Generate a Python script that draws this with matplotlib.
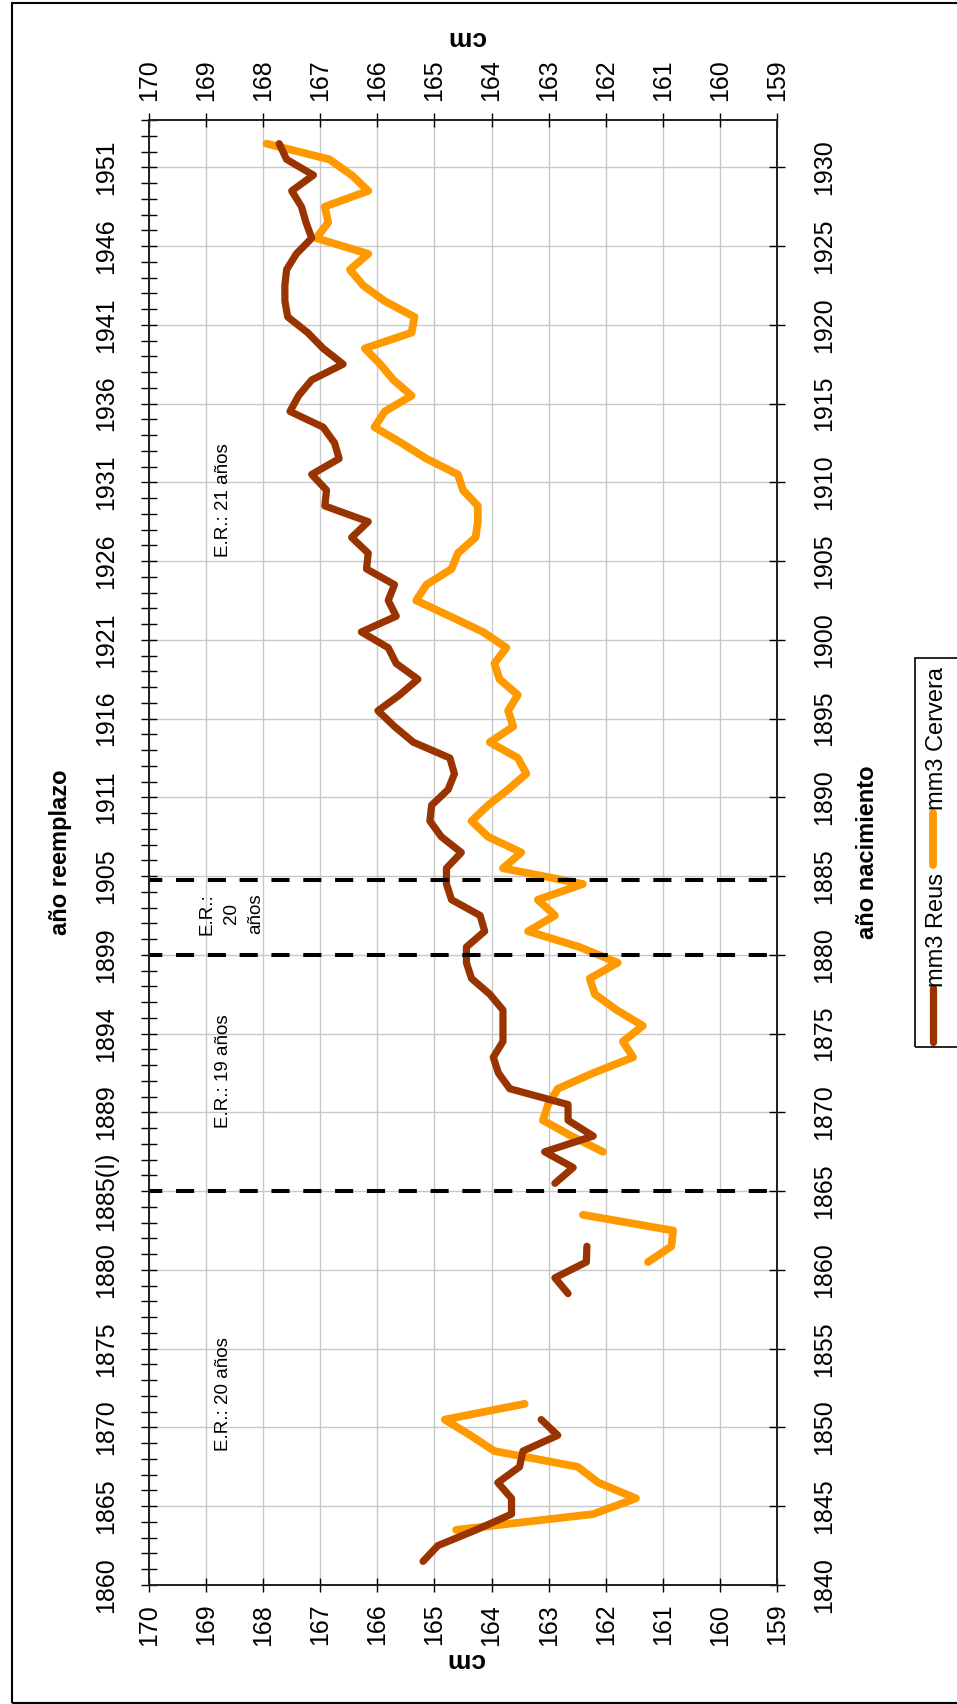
import numpy as np
import matplotlib.pyplot as plt
from matplotlib import font_manager
from matplotlib.ticker import MultipleLocator
from matplotlib.patches import Rectangle
from matplotlib.lines import Line2D

nan = np.nan

# birth year (año nacimiento) and mean height in cm
years_reus = np.arange(1841, 1932)
cm_reus = [165.20, 164.94, 164.27, 163.65, 163.65, 163.89, 163.51, 163.45, 162.84, 163.13,
           nan, nan, nan, nan, nan, nan, nan,
           162.66, 162.89, 162.34, 162.33,
           nan, nan, nan,
           162.89, 162.57, 163.07, 162.22, 162.66, 162.66, 163.68, 163.88, 163.97, 163.80,
           163.80, 163.80, 164.03, 164.35, 164.44, 164.44, 164.12, 164.20, 164.70, 164.79,
           164.79, 164.53, 164.88, 165.08, 165.05, 164.76, 164.65, 164.73, 165.37, 165.70,
           165.99, 165.61, 165.29, 165.67, 165.81, 166.28, 165.67, 165.81, 165.70, 166.19,
           166.16, 166.45, 166.16, 166.92, 166.89, 167.15, 166.67, 166.75, 166.95, 167.53,
           167.38, 167.15, 166.60, 166.95, 167.22, 167.57, 167.62, 167.62, 167.59, 167.42,
           167.15, 167.25, 167.33, 167.50, 167.12, 167.59, 167.72]

years_cervera = np.arange(1843, 1932)
cm_cervera = [164.62, 162.22, 161.47, 162.13, 162.49, 163.95, 164.37, 164.82, 163.42,
              nan, nan, nan, nan, nan, nan, nan, nan,
              161.26, 160.85, 160.82, 162.40,
              nan, nan, nan,
              162.05, 162.60, 163.10, 163.01, 162.84, 162.22, 161.52, 161.70, 161.35, 161.81,
              162.19, 162.28, 161.79, 162.46, 163.36, 162.89, 163.19, 162.40, 163.80, 163.48,
              164.06, 164.35, 164.06, 163.71, 163.39, 163.54, 164.03, 163.62, 163.71, 163.54,
              163.86, 163.95, 163.74, 164.15, 164.73, 165.32, 165.14, 164.70, 164.59, 164.28,
              164.24, 164.24, 164.50, 164.59, 165.14, 165.58, 166.05, 165.87, 165.40, 165.72,
              165.95, 166.22, 165.40, 165.35, 165.87, 166.25, 166.48, 166.16, 167.07, 166.86,
              166.92, 166.16, 166.45, 166.84, 167.94]

birth_ticks = list(range(1840, 1931, 5))
draft_labels = ['1860', '1865', '1870', '1875', '1880', '1885(I)', '1889', '1894', '1899',
                '1905', '1911', '1916', '1921', '1926', '1931', '1936', '1941', '1946', '1951']
cm_ticks = list(range(159, 171))
er_change_years = [1865, 1880, 1884.75]
er_texts = ['E.R.: 20 años', 'E.R.: 19 años', 'E.R.:\n20\naños', 'E.R.: 21 años']

series_names = ['mm3 Reus', 'mm3 Cervera']
colors = ['#993300', '#FF9900']

# font: narrow sans if available
installed = {f.name for f in font_manager.fontManager.ttflist}
fam = [f for f in ['Liberation Sans Narrow', 'Liberation Sans', 'DejaVu Sans'] if f in installed]
plt.rcParams['font.family'] = fam

W, H = 957, 1704
def fx(x):
    return x / W
def fy(y):
    return 1 - y / H

fig = plt.figure(figsize=(W / 100, H / 100), dpi=100)
ax = fig.add_axes([fx(149), fy(1585), (777 - 149) / W, (1585 - 120) / H])

# data lines (points centred between year ticks)
ax.plot(cm_reus, years_reus + 0.5, color=colors[0], lw=5.2,
        solid_capstyle='round', solid_joinstyle='round', zorder=4)
ax.plot(cm_cervera, years_cervera + 0.5, color=colors[1], lw=5.6,
        solid_capstyle='round', solid_joinstyle='round', zorder=3)

for y in er_change_years:
    ax.axhline(y, color='black', lw=2.9, ls=(1.2, (4.5, 3.4)), dash_capstyle='butt', zorder=5)

ax.set_xlim(170, 159)
ax.set_ylim(1840, 1933)
ax.set_xticks(cm_ticks)
ax.set_yticks(birth_ticks)
ax.set_yticklabels(draft_labels)
ax.yaxis.set_minor_locator(MultipleLocator(1))
ax.grid(True, which='major', color='#c8c8c8', lw=1.0, zorder=0)
ax.set_axisbelow(True)

ax.tick_params(axis='x', which='major', top=True, labeltop=True, bottom=True, labelbottom=True,
               direction='inout', length=10, width=1, labelsize=18, labelrotation=90, pad=8.5)
ax.tick_params(axis='y', which='both', left=True, right=False, direction='inout',
               length=12, width=1, labelsize=18, labelrotation=90, pad=16)
for lab in ax.get_yticklabels():
    lab.set_va('center')
for sp in ax.spines.values():
    sp.set_linewidth(1.3)
    sp.set_color('#222222')

ax2 = ax.twinx()
ax2.set_ylim(ax.get_ylim())
ax2.set_yticks(birth_ticks)
ax2.set_yticklabels([str(y) for y in birth_ticks])
ax2.tick_params(axis='y', direction='inout', length=12, width=1, labelsize=18,
                labelrotation=90, pad=19)
for lab in ax2.get_yticklabels():
    lab.set_va('center')
for sp in ax2.spines.values():
    sp.set_linewidth(1.3)
    sp.set_color('#222222')

# regime notes
ax.text(168.69, 1852.1, er_texts[0], rotation=90, fontsize=13.5, ha='center', va='center')
ax.text(168.69, 1872.6, er_texts[1], rotation=90, fontsize=13.5, ha='center', va='center')
ax.text(168.56, 1882.6, er_texts[2], rotation=90, fontsize=13.5, ha='center', va='center',
        multialignment='center', linespacing=1.55)
ax.text(168.69, 1908.9, er_texts[3], rotation=90, fontsize=13.5, ha='center', va='center')

# axis titles
fig.text(fx(61), fy(852), 'año reemplazo', rotation=90, fontsize=17, weight='bold',
         ha='center', va='center')
fig.text(fx(868), fy(852), 'año nacimiento', rotation=90, fontsize=17, weight='bold',
         ha='center', va='center')
fig.text(fx(466), fy(38), 'cm', rotation=180, fontsize=19, weight='bold', ha='center', va='center')
fig.text(fx(465), fy(1660), 'cm', rotation=180, fontsize=19, weight='bold', ha='center', va='center')

# legend (rotated, drawn by hand)
fig.add_artist(Rectangle((fx(915), fy(1047)), fx(960) - fx(915), (1047 - 658) / H,
                         transform=fig.transFigure, fill=False, lw=1.2, ec='black'))
fig.add_artist(Line2D([fx(933), fx(933)], [fy(1042), fy(988)], transform=fig.transFigure,
                      color=colors[0], lw=5.2, solid_capstyle='round'))
fig.text(fx(937), fy(930), series_names[0], rotation=90, fontsize=17, ha='center', va='center')
fig.add_artist(Line2D([fx(933), fx(933)], [fy(865), fy(813)], transform=fig.transFigure,
                      color=colors[1], lw=5.6, solid_capstyle='round'))
fig.text(fx(937), fy(738), series_names[1], rotation=90, fontsize=17, ha='center', va='center')

# outer frame
fig.add_artist(Rectangle((fx(12), fy(1703)), 1.0, (1703 - 3) / H,
                         transform=fig.transFigure, fill=False, lw=1.5, ec='black'))

fig.savefig('out.png', dpi=100)
